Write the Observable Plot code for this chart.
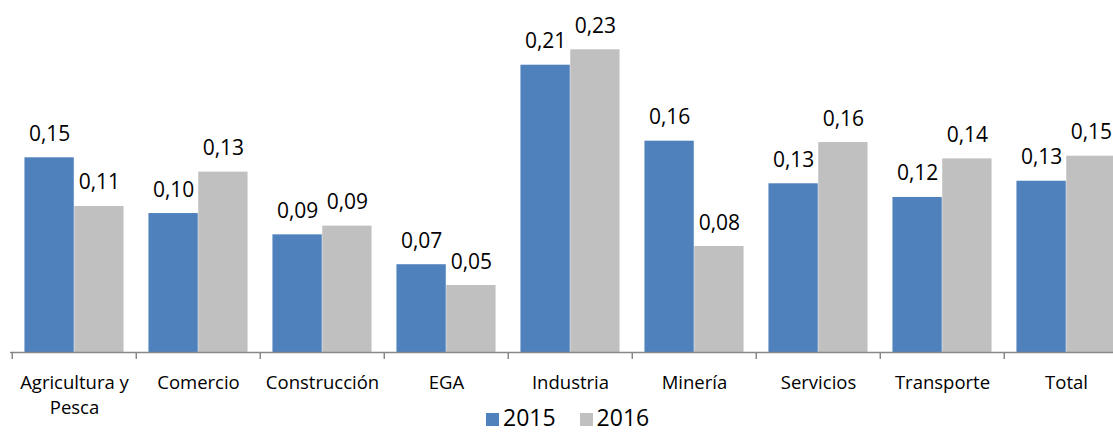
<!DOCTYPE html>
<html>
<head>
<meta charset="utf-8">
<script src="https://cdn.jsdelivr.net/npm/d3@7"></script>
<script src="https://cdn.jsdelivr.net/npm/@observablehq/plot@0.6"></script>
<style>
  html, body { margin: 0; padding: 0; background: #fff; overflow: hidden; width: 1113px; height: 432px; }
  #chart { position: relative; width: 1113px; height: 432px; overflow: hidden; font-family: "Open Sans", sans-serif; }
  #chart svg { max-width: none !important; width: 1130px !important; height: 402px !important; overflow: visible !important; }
  #legend { position: absolute; left: 486px; top: 401px; line-height: normal; display: flex; align-items: center; font-size: 23px; color: #000; }
  .item { display: flex; align-items: center; margin-right: 24px; }
  .sw { width: 13px; height: 13px; margin-right: 4px; margin-top: 4px; }
</style>
</head>
<body>
<div id="chart"></div>
<script>
const categories = ["Agricultura y\nPesca", "Comercio", "Construcción", "EGA", "Industria", "Minería", "Servicios", "Transporte", "Total"];
const series = ["2015", "2016"];
const values2015 = [0.1453, 0.1037, 0.0878, 0.0655, 0.2144, 0.1577, 0.1259, 0.1157, 0.1278];
const values2016 = [0.1090, 0.1346, 0.0943, 0.0500, 0.2259, 0.0791, 0.1567, 0.1445, 0.1465];
const colors = ["#4F81BD", "#C0C0C0"];

const data = [];
categories.forEach((c, i) => {
  data.push({category: c, year: series[0], value: values2015[i]});
  data.push({category: c, year: series[1], value: values2016[i]});
});

const width = 1130, height = 402, marginLeft = 10, marginRight = 0, marginTop = 17, marginBottom = 50;
const step = (width - marginLeft - marginRight) / categories.length;
const fmt = v => d3.format(".2f")(v).replace(".", ",");

const d15 = data.filter(d => d.year === series[0]);
const d16 = data.filter(d => d.year === series[1]);

const plot = Plot.plot({
  width, height, marginLeft, marginRight, marginTop, marginBottom,
  style: {fontFamily: "Open Sans, sans-serif", background: "transparent", maxWidth: "none", overflow: "visible"},
  x: {domain: categories, padding: 0, label: null},
  y: {domain: [0, 0.25], axis: null},
  color: {domain: series, range: colors},
  marks: [
    Plot.barY(d15, {x: "category", y: "value", fill: "year", insetLeft: 0.1 * step, insetRight: 0.5 * step}),
    Plot.barY(d16, {x: "category", y: "value", fill: "year", insetLeft: 0.5 * step, insetRight: 0.1 * step}),
    Plot.ruleY([0], {stroke: "#888", strokeWidth: 1.5}),
    Plot.axisX({tickSize: 7, tickFormat: () => "", dx: -step / 2, stroke: "#888", strokeWidth: 1.5, strokeOpacity: 1}),
    Plot.axisX({tickSize: 0, tickPadding: 19, fontSize: 18.5, lineHeight: 1.35, fill: "#000", label: null}),
    Plot.text(d15, {x: "category", y: "value", text: d => fmt(d.value), dx: -0.2 * step, dy: -17, lineAnchor: "bottom", fontSize: 21, fill: "#000"}),
    Plot.text(d16, {x: "category", y: "value", text: d => fmt(d.value), dx: 0.2 * step, dy: -17, lineAnchor: "bottom", fontSize: 21, fill: "#000"})
  ]
});

const chart = document.getElementById("chart");
chart.appendChild(plot);

const legend = document.createElement("div");
legend.id = "legend";
series.forEach((s, i) => {
  const item = document.createElement("div");
  item.className = "item";
  const sw = document.createElement("span");
  sw.className = "sw";
  sw.style.background = colors[i];
  const label = document.createElement("span");
  label.textContent = s;
  item.appendChild(sw);
  item.appendChild(label);
  legend.appendChild(item);
});
chart.appendChild(legend);
</script>
</body>
</html>
